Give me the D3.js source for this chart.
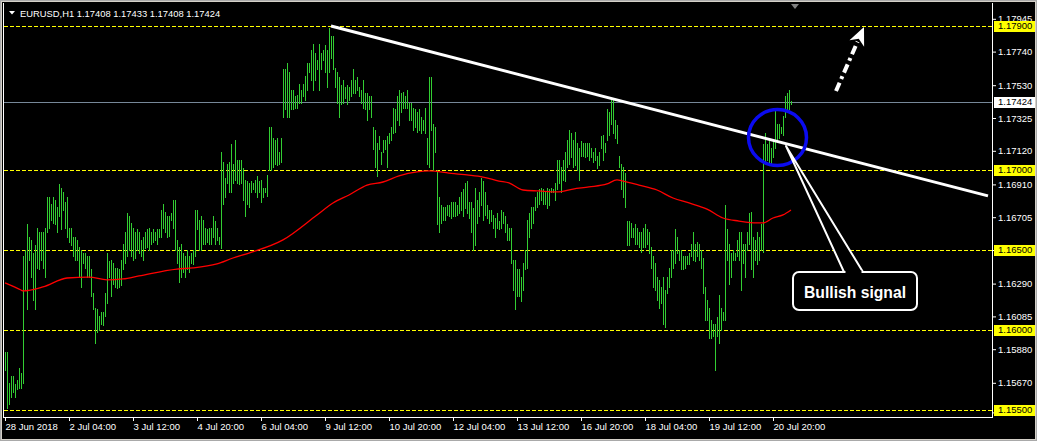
<!DOCTYPE html>
<html>
<head>
<meta charset="utf-8">
<script src="https://cdn.jsdelivr.net/npm/d3@7"></script>
<style>
  html, body { margin: 0; padding: 0; background: #000; }
  svg { display: block; }
  text { font-family: "Liberation Sans", Arial, sans-serif; }
</style>
</head>
<body>
<svg id="chart" width="1037" height="441"></svg>
<script>
// ---------- DATA ----------
const symbolTitle = "EURUSD,H1  1.17408 1.17433 1.17408 1.17424";

// H1 bar highs (oldest -> newest)
const highs = [
1.1586,1.1586,1.1567,1.1571,1.1571,1.1566,1.1569,1.1576,1.1573,1.1646,
1.1650,1.1666,1.1658,1.1656,1.1648,1.1653,1.1664,1.1661,1.1661,1.1661,
1.1664,1.1683,1.1683,1.1679,1.1683,1.1681,1.1677,1.1691,1.1689,1.1686,
1.1680,1.1683,1.1664,1.1664,1.1658,1.1658,1.1656,1.1652,1.1650,1.1648,
1.1648,1.1646,1.1646,1.1638,1.1623,1.1614,1.1613,1.1609,1.1611,1.1611,
1.1623,1.1648,1.1643,1.1644,1.1642,1.1639,1.1639,1.1638,1.1644,1.1654,
1.1661,1.1673,1.1671,1.1667,1.1664,1.1661,1.1663,1.1661,1.1656,1.1658,
1.1661,1.1663,1.1664,1.1661,1.1663,1.1661,1.1663,1.1663,1.1675,1.1679,
1.1674,1.1671,1.1671,1.1673,1.1681,1.1681,1.1656,1.1652,1.1654,1.1648,
1.1646,1.1650,1.1646,1.1648,1.1650,1.1675,1.1675,1.1669,1.1671,1.1669,
1.1664,1.1663,1.1664,1.1664,1.1671,1.1668,1.1664,1.1658,1.1711,1.1705,
1.1695,1.1704,1.1705,1.1716,1.1704,1.1719,1.1706,1.1706,1.1706,1.1701,
1.1694,1.1693,1.1692,1.1693,1.1692,1.1694,1.1696,1.1693,1.1694,1.1689,
1.1689,1.1697,1.1727,1.1727,1.1720,1.1719,1.1720,1.1711,1.1720,1.1763,
1.1763,1.1767,1.1761,1.1750,1.1750,1.1746,1.1747,1.1754,1.1750,1.1754,
1.1759,1.1767,1.1767,1.1775,1.1779,1.1773,1.1769,1.1779,1.1773,1.1775,
1.1778,1.1775,1.1789,1.1784,1.1784,1.1764,1.1761,1.1758,1.1753,1.1756,
1.1752,1.1753,1.1752,1.1756,1.1763,1.1756,1.1758,1.1752,1.1750,1.1756,
1.1748,1.1748,1.1746,1.1746,1.1727,1.1725,1.1717,1.1721,1.1711,1.1719,
1.1719,1.1721,1.1723,1.1727,1.1739,1.1738,1.1746,1.1750,1.1748,1.1749,
1.1746,1.1750,1.1742,1.1742,1.1739,1.1738,1.1736,1.1738,1.1733,1.1731,
1.1739,1.1720,1.1758,1.1758,1.1729,1.1727,1.1700,1.1683,1.1678,1.1677,
1.1677,1.1678,1.1678,1.1680,1.1680,1.1680,1.1678,1.1683,1.1686,1.1688,
1.1692,1.1693,1.1680,1.1680,1.1676,1.1689,1.1681,1.1686,1.1695,1.1693,
1.1686,1.1678,1.1675,1.1675,1.1672,1.1670,1.1673,1.1668,1.1675,1.1674,
1.1671,1.1666,1.1664,1.1664,1.1644,1.1644,1.1638,1.1638,1.1633,1.1642,
1.1650,1.1669,1.1673,1.1677,1.1677,1.1683,1.1686,1.1688,1.1689,1.1688,
1.1686,1.1689,1.1688,1.1689,1.1688,1.1692,1.1706,1.1706,1.1702,1.1706,
1.1711,1.1719,1.1725,1.1723,1.1719,1.1724,1.1717,1.1714,1.1718,1.1717,
1.1717,1.1717,1.1717,1.1714,1.1711,1.1714,1.1709,1.1711,1.1721,1.1722,
1.1717,1.1738,1.1736,1.1744,1.1744,1.1731,1.1728,1.1709,1.1704,1.1702,
1.1698,1.1668,1.1668,1.1667,1.1664,1.1666,1.1664,1.1661,1.1661,1.1664,
1.1666,1.1663,1.1661,1.1652,1.1646,1.1642,1.1633,1.1631,1.1627,1.1633,
1.1625,1.1633,1.1639,1.1650,1.1650,1.1663,1.1658,1.1650,1.1650,1.1646,
1.1646,1.1646,1.1648,1.1654,1.1661,1.1654,1.1655,1.1654,1.1650,1.1645,
1.1627,1.1619,1.1614,1.1606,1.1604,1.1604,1.1608,1.1622,1.1614,1.1611,
1.1678,1.1663,1.1654,1.1648,1.1650,1.1648,1.1656,1.1661,1.1661,1.1654,
1.1654,1.1661,1.1673,1.1674,1.1658,1.1656,1.1661,1.1658,1.1666,1.1716,
1.1723,1.1716,1.1718,1.1714,1.1719,1.1739,1.1729,1.1729,1.1727,1.1734,
1.1746,1.1748,1.1750,1.1743
];

// H1 bar lows (oldest -> newest)
const lows = [
1.1575,1.1551,1.1554,1.1558,1.1561,1.1558,1.1563,1.1564,1.1564,1.1567,
1.1625,1.1613,1.1644,1.1633,1.1619,1.1613,1.1639,1.1638,1.1644,1.1639,
1.1633,1.1661,1.1664,1.1669,1.1667,1.1666,1.1661,1.1671,1.1663,1.1675,
1.1664,1.1658,1.1655,1.1653,1.1646,1.1644,1.1644,1.1633,1.1627,1.1642,
1.1639,1.1633,1.1633,1.1621,1.1613,1.1592,1.1599,1.1600,1.1604,1.1603,
1.1609,1.1617,1.1633,1.1621,1.1629,1.1627,1.1626,1.1627,1.1628,1.1638,
1.1642,1.1646,1.1650,1.1646,1.1644,1.1645,1.1650,1.1648,1.1646,1.1644,
1.1651,1.1652,1.1650,1.1654,1.1655,1.1656,1.1654,1.1658,1.1658,1.1664,
1.1661,1.1658,1.1659,1.1669,1.1664,1.1650,1.1642,1.1630,1.1633,1.1636,
1.1633,1.1638,1.1636,1.1642,1.1641,1.1646,1.1663,1.1650,1.1650,1.1654,
1.1654,1.1655,1.1654,1.1654,1.1658,1.1654,1.1656,1.1654,1.1651,1.1679,
1.1683,1.1692,1.1686,1.1686,1.1692,1.1694,1.1692,1.1691,1.1692,1.1681,
1.1671,1.1679,1.1677,1.1686,1.1688,1.1686,1.1683,1.1686,1.1680,1.1683,
1.1686,1.1684,1.1700,1.1700,1.1702,1.1704,1.1703,1.1704,1.1705,1.1733,
1.1738,1.1733,1.1733,1.1738,1.1738,1.1739,1.1739,1.1742,1.1742,1.1746,
1.1744,1.1750,1.1761,1.1756,1.1750,1.1756,1.1763,1.1750,1.1763,1.1769,
1.1761,1.1752,1.1761,1.1770,1.1763,1.1752,1.1742,1.1733,1.1741,1.1742,
1.1745,1.1741,1.1744,1.1746,1.1748,1.1748,1.1750,1.1746,1.1742,1.1739,
1.1738,1.1731,1.1738,1.1733,1.1713,1.1702,1.1696,1.1713,1.1704,1.1711,
1.1713,1.1702,1.1717,1.1719,1.1723,1.1724,1.1731,1.1728,1.1736,1.1739,
1.1739,1.1739,1.1731,1.1731,1.1725,1.1727,1.1724,1.1725,1.1723,1.1725,
1.1723,1.1704,1.1702,1.1725,1.1700,1.1711,1.1666,1.1661,1.1667,1.1669,
1.1669,1.1672,1.1671,1.1670,1.1671,1.1671,1.1672,1.1673,1.1675,1.1671,
1.1676,1.1673,1.1670,1.1661,1.1650,1.1653,1.1667,1.1671,1.1678,1.1669,
1.1672,1.1670,1.1667,1.1668,1.1664,1.1658,1.1664,1.1663,1.1664,1.1667,
1.1661,1.1656,1.1656,1.1642,1.1625,1.1613,1.1621,1.1621,1.1618,1.1625,
1.1638,1.1639,1.1658,1.1664,1.1667,1.1675,1.1677,1.1679,1.1681,1.1679,
1.1679,1.1676,1.1678,1.1686,1.1686,1.1681,1.1688,1.1692,1.1686,1.1694,
1.1693,1.1702,1.1704,1.1708,1.1702,1.1703,1.1700,1.1694,1.1709,1.1709,
1.1708,1.1709,1.1706,1.1708,1.1705,1.1706,1.1701,1.1703,1.1714,1.1706,
1.1711,1.1719,1.1722,1.1729,1.1723,1.1720,1.1717,1.1702,1.1688,1.1683,
1.1677,1.1653,1.1653,1.1658,1.1658,1.1654,1.1654,1.1652,1.1649,1.1652,
1.1652,1.1654,1.1648,1.1639,1.1627,1.1625,1.1619,1.1614,1.1617,1.1604,
1.1602,1.1623,1.1627,1.1633,1.1639,1.1642,1.1648,1.1644,1.1638,1.1638,
1.1639,1.1641,1.1641,1.1646,1.1644,1.1643,1.1646,1.1644,1.1639,1.1623,
1.1606,1.1606,1.1595,1.1595,1.1596,1.1575,1.1596,1.1592,1.1600,1.1606,
1.1606,1.1644,1.1629,1.1633,1.1644,1.1644,1.1646,1.1644,1.1625,1.1642,
1.1633,1.1650,1.1654,1.1638,1.1633,1.1644,1.1641,1.1644,1.1650,1.1649,
1.1705,1.1706,1.1705,1.1704,1.1708,1.1714,1.1719,1.1720,1.1723,1.1722,
1.1733,1.1736,1.1738,1.1741
];

// Moving average (red) sampled at bar indices
const maIndex = [0,8,9,19,31,42,51,59,67,86,94,106,114,122,139,156,164,172,181,189,197,206,212,222,231,239,247,252,259,267,276,284,292,301,306,309,317,326,334,342,351,359,367,376,379,384,389,393];
const maValue = [1.16294,1.16250,1.16244,1.16269,1.16325,1.16331,1.16313,1.16319,1.16338,1.16381,1.16388,1.16413,1.16450,1.16481,1.16563,1.16719,1.16794,1.16844,1.16906,1.16925,1.16963,1.16988,1.16994,1.16981,1.16969,1.16956,1.16931,1.16919,1.16875,1.16869,1.16863,1.16881,1.16894,1.16913,1.16938,1.16931,1.16906,1.16875,1.16825,1.16794,1.16756,1.16700,1.16681,1.16669,1.16669,1.16700,1.16719,1.16750];

// Horizontal levels (yellow dashed) and current price
const levels = [1.17900, 1.17000, 1.16500, 1.16000, 1.15500];
const lastPrice = 1.17424;

// Price-scale tick labels
const priceTicks = [1.17945, 1.17740, 1.17530, 1.17325, 1.17120, 1.16910, 1.16705, 1.16500, 1.16290, 1.16085, 1.15880, 1.15670, 1.15485];

// Time-scale ticks (bar index) and labels
const timeTickIdx = [0, 32, 64, 96, 128, 160, 192, 224, 256, 288, 320, 352, 384];
const timeLabels = ["28 Jun 2018", "2 Jul 04:00", "3 Jul 12:00", "4 Jul 20:00", "6 Jul 04:00", "9 Jul 12:00", "10 Jul 20:00", "12 Jul 04:00", "13 Jul 12:00", "16 Jul 20:00", "18 Jul 04:00", "19 Jul 12:00", "20 Jul 20:00"];

// Trend line anchors (bar index, price)
const trendIdx = [163, 491.5];
const trendPrice = [1.17900, 1.16838];

// Annotations anchored in data space
const circleAt = {idx: 386.25, price: 1.17203};
const arrowFrom = {idx: 415.5, price: 1.17494};
const arrowTo = {idx: 429.5, price: 1.17894};
const calloutTip = {idx: 390.5, price: 1.17150};
const calloutText = "Bullish signal";

// ---------- CHART ----------
const W = 1037, H = 441;
const svg = d3.select("#chart");

const x = d3.scaleLinear().domain([0, highs.length - 1]).range([5, 5 + 2 * (highs.length - 1)]);
const y = d3.scaleLinear().domain([1.155, 1.179]).range([410, 26]);

// outer window border
svg.append("rect").attr("x", 0.5).attr("y", 0.5).attr("width", W - 1).attr("height", H - 1)
  .attr("fill", "#000").attr("stroke", "#a9a9a9").attr("stroke-width", 1);
svg.append("rect").attr("x", 1.5).attr("y", 1.5).attr("width", W - 3).attr("height", H - 3)
  .attr("fill", "none").attr("stroke", "#d4d0c8").attr("stroke-width", 1);

const plot = svg.append("g");
svg.append("clipPath").attr("id", "clip").append("rect")
  .attr("x", 4).attr("y", 4).attr("width", 988).attr("height", 413);
plot.attr("clip-path", "url(#clip)");

// horizontal levels
plot.selectAll("line.level").data(levels).join("line")
  .attr("class", "level")
  .attr("x1", 4).attr("x2", 992)
  .attr("y1", d => Math.round(y(d)) + 0.5).attr("y2", d => Math.round(y(d)) + 0.5)
  .attr("stroke", "#ffff00").attr("stroke-width", 1).attr("stroke-dasharray", "4,2");

// current price line
plot.append("line")
  .attr("x1", 4).attr("x2", 992)
  .attr("y1", Math.round(y(lastPrice)) + 0.5).attr("y2", Math.round(y(lastPrice)) + 0.5)
  .attr("stroke", "#778899").attr("stroke-width", 1);

// bars
plot.append("g").attr("shape-rendering", "crispEdges")
  .selectAll("rect").data(highs.map((h, i) => ({i, h, l: lows[i]}))).join("rect")
  .attr("x", d => Math.round(x(d.i)))
  .attr("width", 1)
  .attr("y", d => Math.round(y(d.h)))
  .attr("height", d => Math.max(1, Math.round(y(d.l)) - Math.round(y(d.h)) + 1))
  .attr("fill", "#32cd32");

// moving average
const maData = maIndex.map((d, i) => [d, maValue[i]]);
plot.append("path").datum(maData)
  .attr("d", d3.line().x(d => x(d[0])).y(d => y(d[1])).curve(d3.curveMonotoneX))
  .attr("fill", "none").attr("stroke", "#ff0000").attr("stroke-width", 1.3);

// trend line
plot.append("line")
  .attr("x1", x(trendIdx[0])).attr("y1", y(trendPrice[0]))
  .attr("x2", x(trendIdx[1])).attr("y2", y(trendPrice[1]))
  .attr("stroke", "#ffffff").attr("stroke-width", 3);

// blue circle
plot.append("ellipse")
  .attr("cx", x(circleAt.idx)).attr("cy", y(circleAt.price))
  .attr("rx", 29).attr("ry", 28)
  .attr("fill", "none").attr("stroke", "#0b0bf0").attr("stroke-width", 3.5);

// dash-dot arrow
const ax0 = x(arrowFrom.idx), ay0 = y(arrowFrom.price);
const ax1 = x(arrowTo.idx), ay1 = y(arrowTo.price);
const len = Math.hypot(ax1 - ax0, ay1 - ay0);
const ux = (ax1 - ax0) / len, uy = (ay1 - ay0) / len;
const headL = 18, headW = 8;
const bx = ax1 - ux * headL, by = ay1 - uy * headL;
plot.append("line")
  .attr("x1", ax0).attr("y1", ay0).attr("x2", bx + ux * 2).attr("y2", by + uy * 2)
  .attr("stroke", "#fff").attr("stroke-width", 4).attr("stroke-dasharray", "9,4,3,4");
plot.append("path")
  .attr("d", `M${ax1},${ay1} L${bx - uy * headW},${by + ux * headW} L${bx + ux * 5},${by + uy * 5} L${bx + uy * headW},${by - ux * headW} Z`)
  .attr("fill", "#fff");

// callout
const tx = x(calloutTip.idx), ty = y(calloutTip.price);
const boxX = tx + 7, boxY = 272, boxW = 124, boxH = 38;
const baseL = tx + 58, baseR = tx + 77;
const call = svg.append("g");
call.append("path")
  .attr("d", `M${tx},${ty} L${baseL},${boxY} L${baseR},${boxY} Z`)
  .attr("fill", "#000").attr("stroke", "#fff").attr("stroke-width", 2).attr("stroke-linejoin", "round");
call.append("rect")
  .attr("x", boxX).attr("y", boxY).attr("width", boxW).attr("height", boxH)
  .attr("rx", 6).attr("ry", 6)
  .attr("fill", "#000").attr("stroke", "#fff").attr("stroke-width", 2);
call.append("rect")
  .attr("x", baseL + 1.5).attr("y", boxY - 1.5).attr("width", baseR - baseL - 3).attr("height", 4)
  .attr("fill", "#000");
call.append("text")
  .attr("x", boxX + boxW / 2).attr("y", boxY + 26)
  .attr("text-anchor", "middle")
  .attr("fill", "#fff").attr("font-size", 17).attr("font-weight", "bold")
  .attr("textLength", 102).attr("lengthAdjust", "spacingAndGlyphs")
  .text(calloutText);

// frame
const frame = svg.append("g").attr("stroke", "#fff").attr("shape-rendering", "crispEdges");
frame.append("line").attr("x1", 3.5).attr("x2", 3.5).attr("y1", 3).attr("y2", 418);
frame.append("line").attr("x1", 3).attr("x2", 993).attr("y1", 417.5).attr("y2", 417.5);
frame.append("line").attr("x1", 992.5).attr("x2", 992.5).attr("y1", 3).attr("y2", 418);

// price axis
const yAxis = svg.append("g").attr("transform", "translate(992,0)")
  .call(d3.axisRight(y).tickValues(priceTicks).tickFormat(d3.format(".5f")).tickSize(4).tickPadding(2));
yAxis.select(".domain").remove();
yAxis.selectAll(".tick line").attr("stroke", "#fff");
yAxis.selectAll(".tick text").attr("fill", "#fff").attr("font-size", 9.5)
  .attr("font-family", "'Liberation Sans', Arial, sans-serif");

// level labels
const lvl = svg.append("g");
levels.forEach(v => {
  const yy = Math.round(y(v));
  lvl.append("rect").attr("x", 994).attr("y", yy - 5).attr("width", 41).attr("height", 11).attr("fill", "#ffff00");
  lvl.append("text").attr("x", 998).attr("y", yy).attr("dy", "0.34em")
    .attr("font-size", 9.5).attr("fill", "#000").text(d3.format(".5f")(v));
});
{
  const yy = Math.round(y(lastPrice));
  lvl.append("rect").attr("x", 994).attr("y", yy - 5).attr("width", 41).attr("height", 11).attr("fill", "#fff");
  lvl.append("text").attr("x", 998).attr("y", yy).attr("dy", "0.34em")
    .attr("font-size", 9.5).attr("fill", "#000").text(d3.format(".5f")(lastPrice));
}

// time axis
const xAxis = svg.append("g").attr("transform", "translate(0,417)")
  .call(d3.axisBottom(x).tickValues(timeTickIdx).tickFormat((d, i) => timeLabels[i]).tickSize(4).tickPadding(2));
xAxis.select(".domain").remove();
xAxis.selectAll(".tick line").attr("stroke", "#fff");
xAxis.selectAll(".tick text").attr("fill", "#fff").attr("font-size", 9.5)
  .attr("text-anchor", "start").attr("font-family", "'Liberation Sans', Arial, sans-serif");

// header
svg.append("path").attr("d", "M9,11 L15,11 L12,14.5 Z").attr("fill", "#fff");
svg.append("text").attr("x", 20).attr("y", 16.5).attr("fill", "#fff")
  .attr("font-size", 9.4).text(symbolTitle);

// chart shift marker
svg.append("path").attr("d", "M791,4 L799,4 L795,9 Z").attr("fill", "#808080");
</script>
</body>
</html>
